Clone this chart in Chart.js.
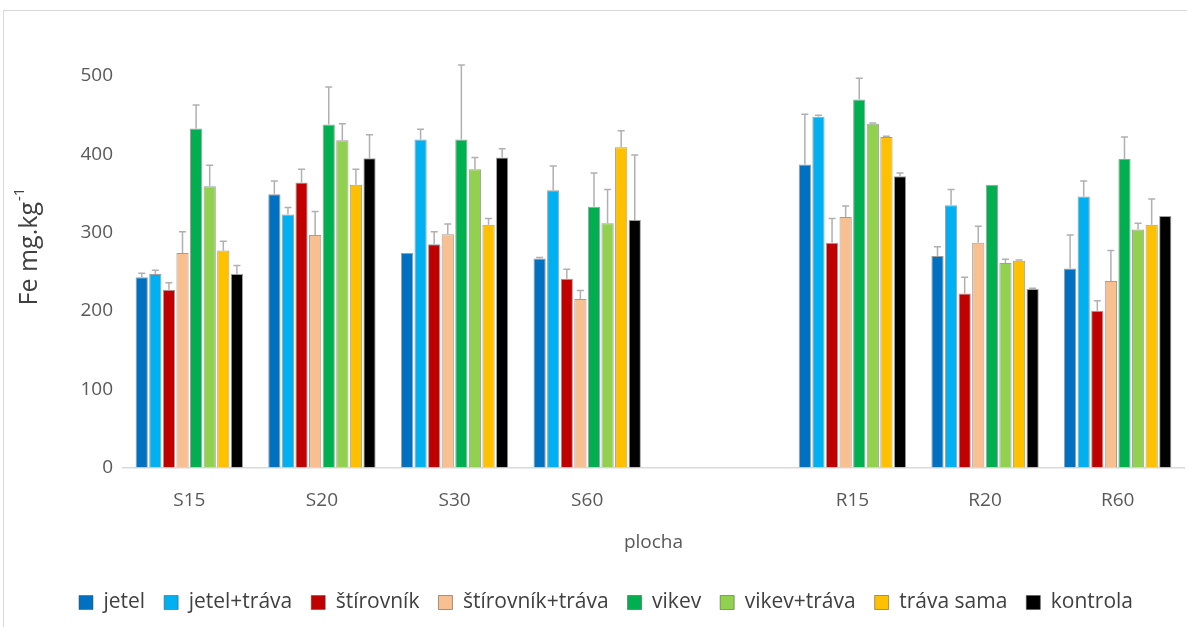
<!DOCTYPE html>
<html>
<head>
<meta charset="utf-8">
<script src="https://cdn.jsdelivr.net/npm/chart.js@4"></script>
<style>
    html, body { margin: 0; padding: 0; background: #fff; overflow: hidden; }
    .frame {
        position: absolute; left: 3px; top: 10px;
        width: 1200px; height: 640px;
        border: 1px solid #d9d9d9;
    }
    canvas { position: absolute; left: 0; top: 0; }
</style>
</head>
<body>
<div class="frame"></div>
<canvas id="chart" width="1187" height="627"></canvas>
<script>
// plots (empty slot keeps the gap between S and R)
const categories = ["S15", "S20", "S30", "S60", "", "R15", "R20", "R60"];
const yTicks = [0, 100, 200, 300, 400, 500];

const jetel          = [243, 349, 274, 267, null, 387, 270, 254];
const jetelErr       = [5, 17, 0, 1, null, 64, 12, 43];
const jetelTrava     = [247, 323, 419, 354, null, 448, 335, 346];
const jetelTravaErr  = [5, 9, 13, 31, null, 2, 20, 20];
const stirovnik      = [227, 364, 285, 241, null, 287, 222, 200];
const stirovnikErr   = [9, 17, 16, 12, null, 31, 21, 13];
const stirTrava      = [274, 297, 298, 215, null, 320, 287, 238];
const stirTravaErr   = [27, 30, 13, 11, null, 14, 21, 39];
const vikev          = [433, 438, 419, 333, null, 470, 361, 394];
const vikevErr       = [30, 48, 95, 43, null, 27, 0, 28];
const vikevTrava     = [359, 418, 381, 312, null, 439, 261, 304];
const vikevTravaErr  = [27, 21, 15, 43, null, 1, 5, 8];
const travaSama      = [277, 361, 310, 409, null, 422, 264, 310];
const travaSamaErr   = [12, 20, 8, 21, null, 1, 1, 33];
const kontrola       = [247, 395, 396, 316, null, 372, 228, 321];
const kontrolaErr    = [11, 30, 11, 83, null, 4, 1, 0];

const series = [
    { label: "jetel", data: jetel, err: jetelErr, color: "#0070c0" },
    { label: "jetel+tráva", data: jetelTrava, err: jetelTravaErr, color: "#00b0f0" },
    { label: "štírovník", data: stirovnik, err: stirovnikErr, color: "#c00000" },
    { label: "štírovník+tráva", data: stirTrava, err: stirTravaErr, color: "#f8bf91" },
    { label: "vikev", data: vikev, err: vikevErr, color: "#00b050" },
    { label: "vikev+tráva", data: vikevTrava, err: vikevTravaErr, color: "#92d050" },
    { label: "tráva sama", data: travaSama, err: travaSamaErr, color: "#ffc000" },
    { label: "kontrola", data: kontrola, err: kontrolaErr, color: "#000000" }
];

const FONT = "'Open Sans', sans-serif";

// upper error whiskers, drawn through the y scale
const errorBars = {
    id: "errorBars",
    afterDatasetsDraw(chart) {
        const ctx = chart.ctx;
        const y = chart.scales.y;
        ctx.save();
        ctx.strokeStyle = "#b0b0b0";
        ctx.lineWidth = 1.5;
        chart.data.datasets.forEach((ds, i) => {
            const meta = chart.getDatasetMeta(i);
            meta.data.forEach((bar, j) => {
                const v = ds.data[j];
                const e = ds.err[j];
                if (v == null || !e) return;
                const top = y.getPixelForValue(v + e);
                ctx.beginPath();
                ctx.moveTo(bar.x, bar.y);
                ctx.lineTo(bar.x, top);
                ctx.moveTo(bar.x - 3.5, top);
                ctx.lineTo(bar.x + 3.5, top);
                ctx.stroke();
            });
        });
        ctx.restore();
    }
};

// y axis title with a raised "-1" exponent, sitting a bit above the middle
const yTitle = {
    id: "yTitle",
    afterDraw(chart) {
        const ctx = chart.ctx;
        const a = chart.chartArea;
        const cy = a.top + (a.bottom - a.top) * 0.437;
        ctx.save();
        ctx.translate(30, cy);
        ctx.rotate(-Math.PI / 2);
        ctx.fillStyle = "#404040";
        ctx.textBaseline = "middle";
        ctx.font = "25px " + FONT;
        const main = "Fe mg.kg";
        const mw = ctx.measureText(main).width;
        ctx.font = "15px " + FONT;
        const sw = ctx.measureText("-1").width;
        const x0 = -(mw + sw) / 2;
        ctx.font = "25px " + FONT;
        ctx.textAlign = "left";
        ctx.fillText(main, x0, 0);
        ctx.font = "15px " + FONT;
        ctx.fillText("-1", x0 + mw + 1, -10);
        ctx.restore();
    }
};

new Chart(document.getElementById("chart"), {
    type: "bar",
    data: {
        labels: categories,
        datasets: series.map(s => ({
            label: s.label,
            data: s.data,
            err: s.err,
            backgroundColor: s.color,
            borderColor: "rgba(80,80,80,0.55)",
            borderWidth: 1,
            categoryPercentage: 0.82,
            barPercentage: 0.9
        }))
    },
    options: {
        responsive: false,
        animation: false,
        layout: { padding: { top: 76, right: 3, bottom: 4, left: 28 } },
        scales: {
            x: {
                grid: { display: false },
                border: { display: true, color: "#d9d9d9", width: 1.5 },
                ticks: { color: "#595959", font: { family: FONT, size: 19 }, padding: 14 },
                title: {
                    display: true, text: "plocha", color: "#595959",
                    font: { family: FONT, size: 19 }, padding: { top: 5, bottom: 19 }
                }
            },
            y: {
                min: 0, max: 500,
                afterBuildTicks: axis => { axis.ticks = yTicks.map(v => ({ value: v })); },
                afterFit: axis => { axis.width = 95; },
                grid: { display: false },
                border: { display: false },
                ticks: { color: "#595959", font: { family: FONT, size: 19 }, padding: 2 }
            }
        },
        plugins: {
            legend: {
                position: "bottom",
                labels: {
                    color: "#404040",
                    font: { family: FONT, size: 21 },
                    boxWidth: 14, boxHeight: 14, padding: 19
                }
            },
            tooltip: { enabled: false }
        }
    },
    plugins: [errorBars, yTitle]
});
</script>
</body>
</html>
